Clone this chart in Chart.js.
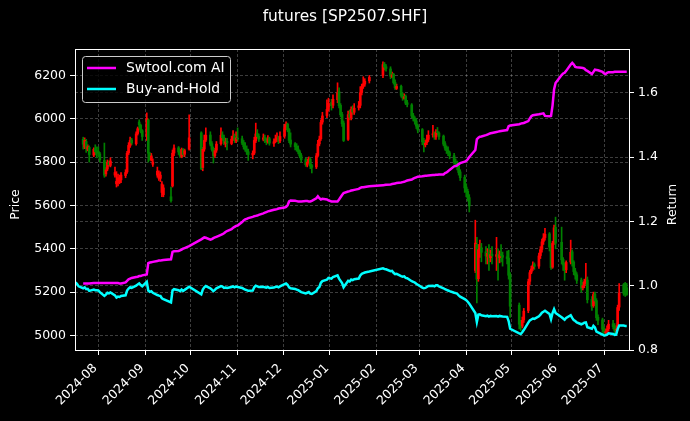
<!DOCTYPE html>
<html>
<head>
<meta charset="utf-8">
<script src="https://cdn.jsdelivr.net/npm/chart.js@4.4.1/dist/chart.umd.min.js"></script>
<style>
  html, body { margin: 0; padding: 0; background: #000; }
  canvas { display: block; }
</style>
</head>
<body>
<canvas id="chart" width="690" height="421"></canvas>
<script>
// trading calendar (SHFE), weekends and exchange holidays skipped
const firstDay = '2024-07-17';
const lastDay = '2025-07-16';
const holidays = ['2024-09-16', '2024-09-17', '2024-10-01', '2024-10-02', '2024-10-03', '2024-10-04', '2024-10-07',
  '2025-01-01', '2025-01-28', '2025-01-29', '2025-01-30', '2025-01-31', '2025-02-03', '2025-02-04',
  '2025-04-04', '2025-05-01', '2025-05-02', '2025-05-05', '2025-06-02'];

const monthTicks = ['2024-08', '2024-09', '2024-10', '2024-11', '2024-12', '2025-01',
  '2025-02', '2025-03', '2025-04', '2025-05', '2025-06', '2025-07'];
const priceTicks = [5000, 5200, 5400, 5600, 5800, 6000, 6200];
const returnTicks = [0.8, 1.0, 1.2, 1.4, 1.6];

// OHLC, one line per month
const open = [
  null, null, null, 5905, 5870, 5895, 5860, 5868, 5832, 5862, 5850,
  5850, 5838, 5808, 5745, 5768, 5798, 5785, 5740, 5700, 5712, 5705, 5718, 5738, 5755, 5843, 5875, 5902, 5885, 5932, 5985, 5970, 5945,
  5920, 5995, 5835, 5810, 5790, 5740, 5725, 5725, 5660, 5650, 5640, 5690, 5842, 5866, 5848, 5826, 5858, 5836, 5860,
  5935, 5775, 5860, 5902, 5925, 5885, 5860, 5830, 5855, 5885, 5925, 5913, 5886, 5896, 5886, 5905, 5920, 5898,
  5910, 5908, 5890, 5872, 5860, 5848, 5833, 5842, 5898, 5932, 5920, 5905, 5913, 5902, 5893, 5908, 5886, 5895, 5905, 5914, 5898,
  5920, 5962, 5975, 5950, 5902, 5885, 5873, 5860, 5848, 5830, 5812, 5786, 5802, 5813, 5784, 5778, 5831, 5884, 5908, 5985, 6015, 6045,
  6075, 6062, 6088, 6125, 6062, 6020, 5980, 5905, 6020, 6005, 6045, 6030, 6052, 6062, 6122, 6150, 6160, 6175,
  6200, 6252, 6240, 6230, 6195, 6205, 6168, 6140, 6150, 6110, 6094, 6104, 6074, 6064, 6015, 6003, 5990, 5968,
  5950, 5896, 5880, 5890, 5905, 5926, 5932, 5916, 5938, 5934, 5920, 5885, 5866, 5855, 5843, 5830, 5802, 5796, 5784, 5755, 5730,
  5685, 5665, 5636, 5300, 5420, 5262, 5398, 5405, 5386, 5365, 5381, 5359, 5375, 5365, 5375, 5359, 5375, 5369, 5363, 5357, 5280,
  5140, 5055, 5043, 5072, 5115, 5250, 5292, 5309, 5327, 5320, 5369, 5398, 5434, 5452, 5469, 5410, 5315, 5428, 5499,
  5430, 5351, 5327, 5303, 5339, 5386, 5339, 5297, 5280, 5256, 5220, 5232, 5250, 5256, 5167, 5137, 5191, 5161, 5084, 5072,
  5031, 5013, 5019, 5031, 5054, 5043, 5025, 5031, 5131, 5235, 5240, 5220
];
const high = [
  null, null, null, 5915, 5912, 5905, 5880, 5875, 5866, 5880, 5870,
  5870, 5845, 5888, 5775, 5810, 5806, 5820, 5777, 5756, 5745, 5740, 5752, 5765, 5850, 5890, 5916, 5910, 5940, 5962, 5995, 5975, 5950,
  6027, 6000, 5845, 5840, 5815, 5777, 5760, 5755, 5710, 5695, 5685, 5856, 5880, 5872, 5855, 5865, 5862, 5860, 6018,
  5940, 5868, 5925, 5958, 5940, 5895, 5870, 5862, 5895, 5958, 5940, 5925, 5910, 5910, 5920, 5945, 5930, 5940,
  5958, 5920, 5900, 5890, 5875, 5860, 5852, 5915, 5980, 5950, 5930, 5930, 5925, 5912, 5922, 5915, 5908, 5925, 5935, 5920, 5940,
  5975, 5986, 5980, 5955, 5935, 5890, 5885, 5875, 5855, 5840, 5820, 5815, 5824, 5820, 5790, 5840, 5900, 5920, 5995, 6030, 6088, 6095,
  6090, 6110, 6166, 6143, 6070, 6030, 5990, 6035, 6040, 6055, 6060, 6070, 6080, 6148, 6160, 6194, 6185, 6200,
  6263, 6260, 6250, 6240, 6215, 6210, 6180, 6160, 6155, 6120, 6115, 6110, 6085, 6070, 6025, 6010, 6000, 5975,
  5955, 5910, 5900, 5925, 5945, 5970, 5940, 5950, 5960, 5940, 5925, 5895, 5875, 5870, 5850, 5840, 5815, 5805, 5795, 5765, 5740,
  5700, 5675, 5650, 5532, 5453, 5420, 5440, 5425, 5410, 5400, 5420, 5395, 5410, 5453, 5400, 5390, 5420, 5385, 5390, 5393, 5290,
  5150, 5070, 5085, 5125, 5260, 5300, 5320, 5340, 5335, 5380, 5410, 5445, 5470, 5495, 5475, 5420, 5435, 5509, 5546,
  5500, 5360, 5335, 5345, 5440, 5395, 5345, 5310, 5290, 5265, 5245, 5260, 5333, 5270, 5180, 5200, 5200, 5170, 5095, 5080,
  5040, 5030, 5045, 5070, 5070, 5055, 5045, 5140, 5240, 5240, 5245, 5240
];
const low = [
  null, null, null, 5860, 5862, 5845, 5852, 5800, 5825, 5833, 5820,
  5830, 5800, 5730, 5735, 5760, 5780, 5778, 5730, 5685, 5690, 5700, 5705, 5728, 5748, 5835, 5868, 5880, 5878, 5925, 5950, 5935, 5900,
  5900, 5800, 5808, 5805, 5780, 5730, 5715, 5710, 5640, 5640, 5615, 5685, 5830, 5835, 5820, 5820, 5825, 5825, 5855,
  5765, 5760, 5850, 5895, 5875, 5850, 5796, 5822, 5845, 5878, 5900, 5880, 5870, 5856, 5880, 5900, 5890, 5890,
  5895, 5880, 5860, 5850, 5835, 5808, 5815, 5835, 5890, 5910, 5895, 5898, 5890, 5880, 5888, 5878, 5872, 5890, 5895, 5885, 5890,
  5910, 5950, 5940, 5890, 5870, 5856, 5850, 5838, 5820, 5800, 5780, 5778, 5795, 5770, 5750, 5770, 5824, 5875, 5900, 5975, 6005, 6035,
  6040, 6050, 6074, 6050, 6010, 5965, 5895, 5900, 5995, 5995, 6020, 6020, 6040, 6050, 6110, 6140, 6150, 6165,
  6190, 6225, 6220, 6185, 6190, 6160, 6135, 6135, 6100, 6085, 6090, 6065, 6055, 6005, 5990, 5975, 5955, 5935,
  5880, 5847, 5870, 5880, 5895, 5915, 5905, 5905, 5925, 5905, 5875, 5855, 5840, 5830, 5815, 5790, 5780, 5764, 5740, 5715, 5660,
  5640, 5620, 5570, 5290, 5150, 5250, 5360, 5340, 5330, 5330, 5300, 5340, 5330, 5300, 5255, 5335, 5340, 5320, 5330, 5260, 5083,
  5030, 5023, 5035, 5060, 5105, 5235, 5285, 5300, 5305, 5310, 5355, 5385, 5420, 5440, 5390, 5305, 5310, 5420, 5400,
  5330, 5300, 5255, 5290, 5330, 5320, 5280, 5260, 5240, 5200, 5210, 5220, 5240, 5150, 5116, 5130, 5145, 5070, 5050, 5015,
  5005, 5000, 5010, 5020, 5030, 5009, 5015, 5025, 5116, 5185, 5180, 5185
];
const close = [
  null, null, null, 5883, 5900, 5865, 5871, 5835, 5859, 5847, 5847,
  5841, 5811, 5740, 5764, 5800, 5788, 5805, 5752, 5711, 5728, 5722, 5740, 5752, 5841, 5877, 5900, 5888, 5930, 5954, 5972, 5942, 5918,
  6001, 5841, 5817, 5829, 5800, 5758, 5746, 5740, 5699, 5681, 5622, 5841, 5865, 5847, 5829, 5859, 5835, 5853, 5912,
  5770, 5859, 5900, 5924, 5883, 5859, 5829, 5853, 5883, 5924, 5912, 5888, 5894, 5888, 5906, 5918, 5900, 5912,
  5906, 5888, 5871, 5859, 5847, 5835, 5841, 5900, 5930, 5918, 5906, 5912, 5900, 5894, 5906, 5888, 5894, 5906, 5912, 5900, 5918,
  5960, 5972, 5948, 5900, 5883, 5871, 5859, 5847, 5829, 5811, 5788, 5800, 5811, 5782, 5776, 5829, 5883, 5906, 5983, 6013, 6043, 6072,
  6060, 6090, 6120, 6060, 6019, 5977, 5900, 6019, 6007, 6043, 6031, 6049, 6060, 6120, 6149, 6161, 6173, 6191,
  6250, 6238, 6232, 6197, 6203, 6167, 6143, 6149, 6108, 6096, 6102, 6072, 6066, 6013, 6001, 5989, 5966, 5948,
  5894, 5883, 5888, 5906, 5924, 5930, 5918, 5936, 5936, 5918, 5883, 5865, 5853, 5841, 5829, 5800, 5794, 5782, 5752, 5728, 5681,
  5663, 5634, 5598, 5426, 5260, 5396, 5402, 5384, 5367, 5379, 5361, 5373, 5367, 5373, 5361, 5373, 5367, 5361, 5355, 5278, 5135,
  5052, 5041, 5070, 5112, 5248, 5290, 5307, 5325, 5319, 5367, 5396, 5432, 5450, 5467, 5408, 5313, 5426, 5497, 5426,
  5349, 5325, 5301, 5337, 5384, 5337, 5295, 5278, 5254, 5218, 5230, 5248, 5254, 5165, 5135, 5189, 5159, 5082, 5070, 5029,
  5011, 5017, 5029, 5052, 5041, 5023, 5029, 5129, 5195, 5195, 5189, 5189
];

// cumulative return curves (right axis)
const strategy = [
  null, null, null, 1.007, 1.007, 1.007, 1.007, 1.007, 1.008, 1.008, 1.008,
  1.008, 1.008, 1.008, 1.008, 1.008, 1.008, 1.008, 1.008, 1.008, 1.008, 1.007, 1.007, 1.010, 1.015, 1.020, 1.022, 1.024, 1.027, 1.028, 1.030, 1.030, 1.032,
  1.035, 1.070, 1.072, 1.073, 1.074, 1.077, 1.078, 1.078, 1.079, 1.080, 1.082, 1.105, 1.107, 1.108, 1.110, 1.112, 1.115, 1.117, 1.123,
  1.144, 1.147, 1.150, 1.149, 1.143, 1.145, 1.148, 1.150, 1.152, 1.158, 1.160, 1.163, 1.167, 1.170, 1.176, 1.180, 1.183, 1.186,
  1.187, 1.198, 1.203, 1.206, 1.208, 1.210, 1.214, 1.216, 1.217, 1.218, 1.220, 1.225, 1.227, 1.229, 1.231, 1.232, 1.236, 1.237, 1.238, 1.240, 1.241,
  1.243, 1.245, 1.250, 1.262, 1.265, 1.264, 1.263, 1.262, 1.262, 1.262, 1.263, 1.263, 1.262, 1.262, 1.264, 1.272, 1.278, 1.272, 1.268, 1.270, 1.268, 1.265,
  1.262, 1.262, 1.262, 1.268, 1.275, 1.282, 1.288, 1.293, 1.294, 1.296, 1.297, 1.298, 1.301, 1.304, 1.306, 1.306, 1.307, 1.309,
  1.312, 1.313, 1.314, 1.315, 1.316, 1.317, 1.318, 1.319, 1.321, 1.322, 1.323, 1.325, 1.327, 1.330, 1.333, 1.335, 1.337, 1.339,
  1.340, 1.341, 1.342, 1.342, 1.343, 1.344, 1.344, 1.345, 1.345, 1.346, 1.346, 1.350, 1.352, 1.356, 1.360, 1.371, 1.372, 1.374, 1.378, 1.381, 1.386,
  1.388, 1.393, 1.400, 1.422, 1.455, 1.460, 1.463, 1.464, 1.468, 1.470, 1.472, 1.474, 1.475, 1.478, 1.479, 1.480, 1.481, 1.482, 1.484, 1.496, 1.498,
  1.502, 1.504, 1.505, 1.506, 1.512, 1.520, 1.527, 1.530, 1.531, 1.533, 1.534, 1.535, 1.536, 1.528, 1.527, 1.528, 1.560, 1.610, 1.630,
  1.655, 1.660, 1.662, 1.668, 1.688, 1.693, 1.688, 1.680, 1.679, 1.678, 1.677, 1.675, 1.670, 1.668, 1.658, 1.665, 1.672, 1.671, 1.670, 1.665,
  1.660, 1.658, 1.662, 1.664, 1.664, 1.665, 1.665, 1.665, 1.665, 1.665, 1.665, 1.665
];
const buyHold = [
  1.010, 1.005, 0.998, 0.992, 0.995, 0.989, 0.990, 0.984, 0.988, 0.986, 0.986,
  0.985, 0.980, 0.968, 0.972, 0.978, 0.976, 0.979, 0.970, 0.963, 0.966, 0.965, 0.968, 0.970, 0.985, 0.991, 0.995, 0.993, 1.000, 1.004, 1.007, 1.002, 0.998,
  1.012, 0.985, 0.981, 0.983, 0.978, 0.971, 0.969, 0.968, 0.961, 0.958, 0.948, 0.985, 0.989, 0.986, 0.983, 0.988, 0.984, 0.987, 0.997,
  0.973, 0.988, 0.995, 0.999, 0.992, 0.988, 0.983, 0.987, 0.992, 0.999, 0.997, 0.993, 0.994, 0.993, 0.996, 0.998, 0.995, 0.997,
  0.996, 0.993, 0.990, 0.988, 0.986, 0.984, 0.985, 0.995, 1.000, 0.998, 0.996, 0.997, 0.995, 0.994, 0.996, 0.993, 0.994, 0.996, 0.997, 0.995, 0.998,
  1.005, 1.007, 1.003, 0.995, 0.992, 0.990, 0.988, 0.986, 0.983, 0.980, 0.976, 0.978, 0.980, 0.975, 0.974, 0.983, 0.992, 0.996, 1.009, 1.014, 1.019, 1.024,
  1.022, 1.027, 1.032, 1.022, 1.015, 1.008, 0.995, 1.015, 1.013, 1.019, 1.017, 1.020, 1.022, 1.032, 1.037, 1.039, 1.041, 1.044,
  1.054, 1.052, 1.051, 1.045, 1.046, 1.040, 1.036, 1.037, 1.030, 1.028, 1.029, 1.024, 1.023, 1.014, 1.012, 1.010, 1.006, 1.003,
  0.994, 0.992, 0.993, 0.996, 0.999, 1.000, 0.998, 1.001, 1.001, 0.998, 0.992, 0.989, 0.987, 0.985, 0.983, 0.978, 0.977, 0.975, 0.970, 0.966, 0.958,
  0.955, 0.950, 0.944, 0.915, 0.887, 0.910, 0.911, 0.908, 0.905, 0.907, 0.904, 0.906, 0.905, 0.906, 0.904, 0.906, 0.905, 0.904, 0.903, 0.890, 0.866,
  0.852, 0.850, 0.855, 0.862, 0.885, 0.892, 0.895, 0.898, 0.897, 0.905, 0.910, 0.916, 0.919, 0.922, 0.912, 0.896, 0.915, 0.927, 0.915,
  0.902, 0.898, 0.894, 0.900, 0.908, 0.900, 0.893, 0.890, 0.886, 0.880, 0.882, 0.885, 0.886, 0.871, 0.866, 0.875, 0.870, 0.857, 0.855, 0.848,
  0.845, 0.846, 0.848, 0.852, 0.850, 0.847, 0.848, 0.865, 0.876, 0.876, 0.875, 0.875
];

const DAY = 864e5;
const dates = [];
for (let t = Date.parse(firstDay); t <= Date.parse(lastDay); t += DAY) {
  const d = new Date(t);
  const s = d.toISOString().slice(0, 10);
  const wd = d.getUTCDay();
  if (wd === 0 || wd === 6 || holidays.includes(s)) continue;
  dates.push(s);
}

// x = days since 2024-08-01
const dayNum = s => (Date.parse(s) - Date.parse('2024-08-01')) / DAY;
const xs = dates.map(dayNum);
const n = Math.min(dates.length, close.length, strategy.length, buyHold.length);

const wicks = [], bodies = [], candleColors = [];
for (let i = 0; i < n; i++) {
  if (close[i] == null) continue;
  wicks.push({ x: xs[i], y: [low[i], high[i]] });
  bodies.push({ x: xs[i], y: [open[i], close[i]] });
  candleColors.push(close[i] >= open[i] ? '#ff0000' : '#008000');
}
const stratPts = [], holdPts = [];
for (let i = 0; i < n; i++) {
  stratPts.push({ x: xs[i], y: strategy[i] });
  holdPts.push({ x: xs[i], y: buyHold[i] });
}

const TICK_SIZE = 12.5;
const gridColor = 'rgba(255,255,255,0.3)';
Chart.defaults.font.family = '"DejaVu Sans"';
Chart.defaults.font.size = TICK_SIZE;
Chart.defaults.color = '#ffffff';

function gridOpts() {
  return { offset: false, color: gridColor, lineWidth: 0.8, tickColor: '#ffffff', tickLength: 5, tickWidth: 1 };
}

const decor = {
  id: 'decor',
  beforeDraw(chart) {
    const c = chart.ctx;
    c.save();
    c.fillStyle = '#000';
    c.fillRect(0, 0, chart.width, chart.height);
    c.restore();
  },
  afterDraw(chart) {
    const c = chart.ctx, a = chart.chartArea;
    c.save();
    c.setLineDash([]);
    c.strokeStyle = '#ffffff';
    c.lineWidth = 1;
    c.strokeRect(a.left + 0.5, a.top + 0.5, a.right - a.left, a.bottom - a.top);

    c.fillStyle = '#ffffff';
    c.textAlign = 'center';
    c.textBaseline = 'middle';
    c.font = '15.4px "DejaVu Sans"';
    c.fillText('futures [SP2507.SHF]', chart.width / 2, 17);

    c.font = TICK_SIZE + 'px "DejaVu Sans"';
    const midY = (a.top + a.bottom) / 2 + 5;
    c.save(); c.translate(16, midY); c.rotate(-Math.PI / 2); c.fillText('Price', 0, 0); c.restore();
    c.save(); c.translate(673, midY); c.rotate(-Math.PI / 2); c.fillText('Return', 0, 0); c.restore();

    // legend box, upper left
    const bx = 82.5, by = 56.5, bw = 148, bh = 46, r = 3;
    c.beginPath();
    c.moveTo(bx + r, by);
    c.arcTo(bx + bw, by, bx + bw, by + bh, r);
    c.arcTo(bx + bw, by + bh, bx, by + bh, r);
    c.arcTo(bx, by + bh, bx, by, r);
    c.arcTo(bx, by, bx + bw, by, r);
    c.closePath();
    c.fillStyle = 'rgba(0,0,0,0.8)';
    c.fill();
    c.strokeStyle = '#cccccc';
    c.stroke();

    const items = chart.data.datasets.filter(ds => ds.type === 'line');
    c.font = '13.9px "DejaVu Sans"';
    c.textAlign = 'left';
    items.forEach((ds, i) => {
      const y = 68 + i * 21;
      c.strokeStyle = ds.borderColor;
      c.lineWidth = 2.5;
      c.lineCap = 'butt';
      c.beginPath(); c.moveTo(87, y); c.lineTo(116, y); c.stroke();
      c.fillStyle = '#ffffff';
      c.fillText(ds.label, 126, y);
    });
    c.restore();
  }
};

new Chart(document.getElementById('chart'), {
  type: 'bar',
  data: {
    datasets: [
      { type: 'line', label: 'Swtool.com AI', data: stratPts, yAxisID: 'y2', borderColor: '#ff00ff',
        borderWidth: 2.5, pointRadius: 0, tension: 0, order: 0 },
      { type: 'line', label: 'Buy-and-Hold', data: holdPts, yAxisID: 'y2', borderColor: '#00ffff',
        borderWidth: 2.5, pointRadius: 0, tension: 0, order: 1 },
      { type: 'bar', label: 'body', data: bodies, yAxisID: 'y', backgroundColor: candleColors,
        barThickness: 2, minBarLength: 1, grouped: false, order: 2 },
      { type: 'bar', label: 'wick', data: wicks, yAxisID: 'y', backgroundColor: candleColors,
        barThickness: 1, grouped: false, order: 3 }
    ]
  },
  options: {
    responsive: false,
    animation: false,
    devicePixelRatio: 1,
    layout: { padding: { top: 49, left: 0, right: 0, bottom: 0 } },
    plugins: { legend: { display: false }, tooltip: { enabled: false }, title: { display: false } },
    scales: {
      x: {
        type: 'linear',
        min: dayNum(firstDay) - 0.4,
        max: dayNum(lastDay) + 1.5,
        offset: false,
        afterBuildTicks: s => { s.ticks = monthTicks.map(m => ({ value: dayNum(m + '-01') })); },
        afterFit: s => { s.height = 71; },
        ticks: { autoSkip: false, minRotation: 45, maxRotation: 45, padding: 6, labelOffset: -3,
          callback: (v, i) => monthTicks[i] },
        grid: gridOpts(),
        border: { display: false, dash: [3, 2] }
      },
      y: {
        type: 'linear',
        position: 'left',
        min: 4933,
        max: 6322,
        afterBuildTicks: s => { s.ticks = priceTicks.map(v => ({ value: v })); },
        afterFit: s => { s.width = 75; },
        ticks: { padding: 4, callback: v => String(v) },
        grid: gridOpts(),
        border: { display: false, dash: [3, 2] }
      },
      y2: {
        type: 'linear',
        position: 'right',
        min: 0.8,
        max: 1.736,
        afterBuildTicks: s => { s.ticks = returnTicks.map(v => ({ value: v })); },
        afterFit: s => { s.width = 61; },
        ticks: { padding: 4, callback: v => v.toFixed(1) },
        grid: gridOpts(),
        border: { display: false, dash: [3, 2] }
      }
    }
  },
  plugins: [decor]
});
</script>
</body>
</html>
